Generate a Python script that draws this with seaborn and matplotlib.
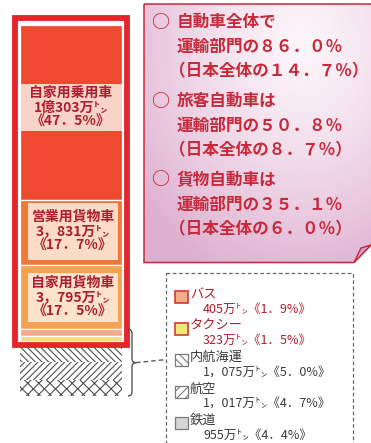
import matplotlib
matplotlib.use("Agg")
import numpy as np
import pandas as pd
import matplotlib.pyplot as plt
from matplotlib.patches import Rectangle, Polygon, PathPatch
from matplotlib.path import Path
import seaborn as sns

sns.set_theme(style="white")
plt.rcParams["font.family"] = ["Noto Sans CJK JP", "DejaVu Sans"]
plt.rcParams["hatch.linewidth"] = 0.8

# CO2 emissions of the transport sector by mode (万トン, share of sector %)
modes = ["自家用乗用車", "営業用貨物車", "自家用貨物車", "バス", "タクシー",
         "内航海運", "航空", "鉄道"]
emissions = [10303, 3831, 3795, 405, 323, 1075, 1017, 955]
shares = [47.5, 17.7, 17.5, 1.9, 1.5, 5.0, 4.7, 4.4]

# summary of road vehicles
summary_groups = ["自動車全体で", "旅客自動車は", "貨物自動車は"]
sector_share = [86.0, 50.8, 35.1]
national_share = [14.7, 8.7, 6.0]

# styling
seg_colors = ["#EF4A2F", "#F0783A", "#F5A250", "#F4AA86", "#F3E07A",
              "white", "white", "white"]
seg_hatches = [None, None, None, None, None, "\\\\\\\\\\", "/////", "xxx"]
legend_hatches = ["", "", "\\\\\\\\", "////", ""]
legend_faces = ["#F6AC88", "#EFE977", "white", "white", "#D6D6D6"]
DARK_RED = "#AD1F2E"
CALL_RED = "#C62A3B"

W, H = 371, 443
PX = 3.68          # pixels per percentage point
GAP = 0.6          # space between road vehicles and other modes
BAR_TOP = 25

FW = str.maketrans("0123456789.%", "０１２３４５６７８９．％")


def fmt_tons(v):
    oku, man = divmod(v, 10000)
    if oku:
        return f"{oku}億{man}万㌧"
    return f"{man:,}".replace(",", "，") + "万㌧"


def fmt_share(v):
    return f"《{v:.1f}%》".replace(".", "．")


fig = plt.figure(figsize=(W / 100, H / 100), dpi=100)
fig.patch.set_facecolor("white")

bottoms = []
cum = 0.0
for i, v in enumerate(shares):
    if i == 5:
        cum += GAP
    bottoms.append(cum)
    cum += v
total = cum

ax = fig.add_axes([20 / W, 1 - (BAR_TOP + total * PX) / H, 102 / W, total * PX / H])
for i, (m, v, b) in enumerate(zip(modes, shares, bottoms)):
    df = pd.DataFrame({"sector": ["運輸部門"], "share": [v]})
    kws = dict(bottom=b, width=1.0, errorbar=None, saturation=1, ax=ax,
               color=seg_colors[i], linewidth=0.9, edgecolor="white")
    if seg_hatches[i]:
        kws.update(hatch=seg_hatches[i], edgecolor="#505050", linewidth=0)
    sns.barplot(data=df, x="sector", y="share", **kws)
ax.set_xlim(-0.5, 0.5)
ax.set_ylim(total, 0)
ax.axis("off")

# labels inside the three main segments
label_shift = [-5, -1, 0]
box_h = [47, 57, 49]
box_x = [(-0.5, 1.0), (-0.42, 0.88), (-0.42, 0.88)]
box_colors = ["#F9D3C7", "#FCDCC6", "#FDE3CB"]
for i in range(3):
    yc = bottoms[i] + shares[i] / 2 + label_shift[i] / PX
    hb = box_h[i] / PX
    ax.add_patch(Rectangle((box_x[i][0], yc - hb / 2), box_x[i][1], hb,
                           facecolor=box_colors[i], edgecolor="none", zorder=3))
    xc = box_x[i][0] + box_x[i][1] / 2
    lines = [modes[i], fmt_tons(emissions[i]), fmt_share(shares[i])]
    for k, s in enumerate(lines):
        ax.text(xc, yc + (k - 1) * 14.5 / PX, s, ha="center", va="center",
                fontsize=10, fontweight="bold", color=DARK_RED, zorder=4)

# overlay in pixel coordinates
ov = fig.add_axes([0, 0, 1, 1], zorder=5)
ov.set_xlim(0, W)
ov.set_ylim(H, 0)
ov.axis("off")
ov.patch.set_alpha(0)

# frame around road vehicles
road_bottom = BAR_TOP + bottoms[5] * PX - GAP * PX
ov.add_patch(Rectangle((19.3, 22.3), 104.2, road_bottom - 22.3 + 0.5,
                       fill=False, edgecolor="white", linewidth=2.2))
ov.add_patch(Rectangle((15, 17.8), 112, road_bottom + 2.8 - 17.8,
                       fill=False, edgecolor="#E3262B", linewidth=4.2))

# brace for other modes
hatch_top = BAR_TOP + bottoms[3] * PX
hatch_bot = BAR_TOP + total * PX
mid = (hatch_top + hatch_bot) / 2
bx = 132
verts = [(128, hatch_top), (bx, hatch_top), (bx, hatch_top + 4),
         (bx, mid - 4), (bx, mid), (bx + 4, mid),
         (bx, mid), (bx, mid + 4),
         (bx, hatch_bot - 4), (bx, hatch_bot), (128, hatch_bot)]
codes = [Path.MOVETO, Path.CURVE3, Path.CURVE3,
         Path.LINETO, Path.CURVE3, Path.CURVE3,
         Path.CURVE3, Path.CURVE3,
         Path.LINETO, Path.CURVE3, Path.CURVE3]
ov.add_patch(PathPatch(Path(verts, codes), fill=False, edgecolor="#555555", linewidth=1.0))
ov.plot([bx + 4, 165.5], [mid, mid - 3], color="#666666", linewidth=1.1,
        linestyle=(0, (3, 2)))

# callout box with gradient
box_verts = [(144, 4), (376, 4), (376, 244), (371, 245), (354, 262.5), (144, 262.5)]
box_patch = Polygon(box_verts, closed=True, facecolor="none", edgecolor=CALL_RED,
                    linewidth=1.1, zorder=3)
gx, gy = np.meshgrid(np.linspace(144, 376, 240), np.linspace(4, 263, 260))
t = np.clip(np.sqrt(((gx - 300) / 210) ** 2 + ((gy - 45) / 250) ** 2), 0, 1) ** 1.3
light = np.array([252, 246, 250]) / 255
dark = np.array([222, 174, 207]) / 255
img = light[None, None, :] * (1 - t[..., None]) + dark[None, None, :] * t[..., None]
im = ov.imshow(img, extent=[144, 376, 263, 4], origin="upper", zorder=2,
               interpolation="bilinear", aspect="auto")
clip = Polygon(box_verts, closed=True, transform=ov.transData, facecolor="none")
ov.add_patch(clip)
clip.set_visible(False)
im.set_clip_path(clip)
ov.add_patch(box_patch)
ov.add_patch(Polygon([(354, 262.5), (361, 248), (371, 245)], closed=True,
                     facecolor="#C9A2D6", edgecolor=CALL_RED, linewidth=1.0, zorder=4))
ov.set_xlim(0, W)
ov.set_ylim(H, 0)

row_y = 22
for g, s1, s2 in zip(summary_groups, sector_share, national_share):
    ov.text(151, row_y, "○", ha="left", va="center", fontsize=13,
            fontweight="bold", color=CALL_RED, zorder=5)
    ov.text(177, row_y, g, ha="left", va="center", fontsize=12,
            fontweight="bold", color=CALL_RED, zorder=5)
    ov.text(177, row_y + 24.5, "運輸部門の" + f"{s1:.1f}%".translate(FW),
            ha="left", va="center", fontsize=12, fontweight="bold",
            color=CALL_RED, zorder=5)
    ov.text(169, row_y + 49, "（日本全体の" + f"{s2:.1f}%".translate(FW) + "）",
            ha="left", va="center", fontsize=12, fontweight="bold",
            color=CALL_RED, zorder=5)
    row_y += 79

# legend for the small modes
ov.add_patch(Rectangle((165.5, 273), 187, 200, fill=False, edgecolor="#6A6A6A",
                       linewidth=0.9, linestyle=(0, (3, 2))))
sq_top = 291
for j, i in enumerate(range(3, 8)):
    red = i in (3, 4)
    ec = "#D23A3A" if red else "#7A7A7A"
    tc = DARK_RED if red else "#3C3C3C"
    ov.add_patch(Rectangle((175, sq_top), 13, 12, facecolor=legend_faces[j],
                           edgecolor=ec, linewidth=1.2 if red else 0.9,
                           hatch=legend_hatches[j] or None))
    ov.text(190, sq_top + 3.5, modes[i], ha="left", va="center", fontsize=9.5,
            color=tc)
    ov.text(203, sq_top + 18, fmt_tons(emissions[i]) + fmt_share(shares[i]),
            ha="left", va="center", fontsize=9, color=tc)
    sq_top += 31.5

fig.savefig("out.png", dpi=100, facecolor="white")
